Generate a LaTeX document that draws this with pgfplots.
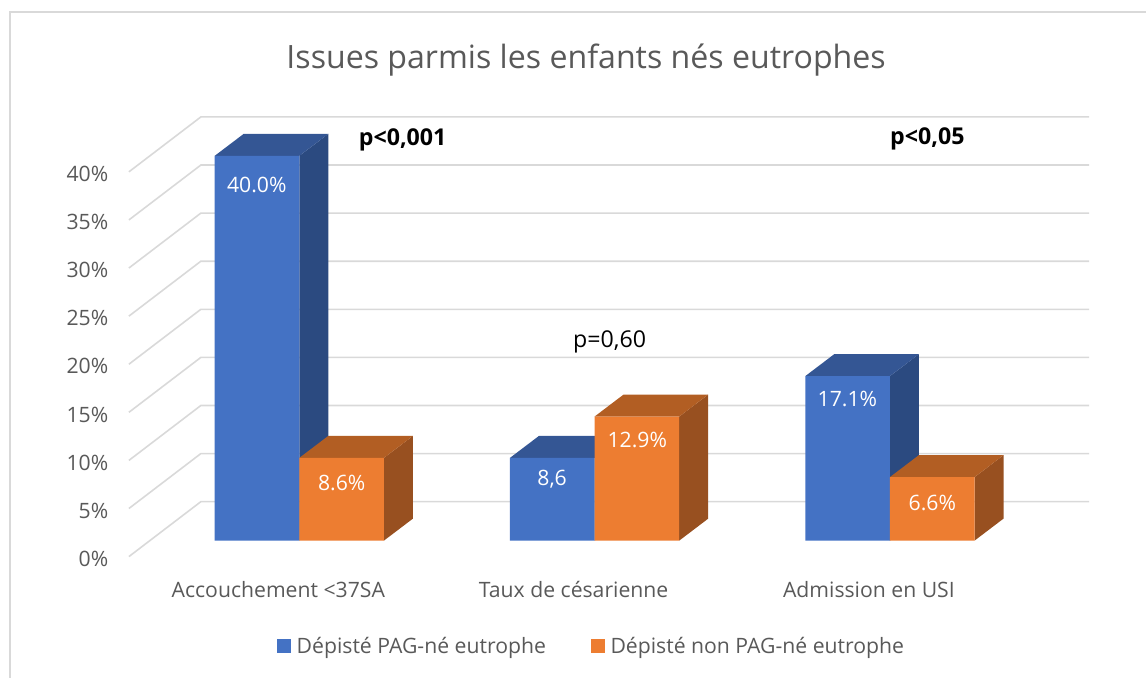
\documentclass[border=0pt]{standalone}
\usepackage{fontspec}
\setmainfont{Open Sans}
\usepackage{pgfplots}
\pgfplotsset{compat=1.18}
\definecolor{blueF}{HTML}{4472C4}
\definecolor{blueS}{HTML}{2B4A80}
\definecolor{blueT}{HTML}{345694}
\definecolor{orF}{HTML}{ED7D31}
\definecolor{orS}{HTML}{985020}
\definecolor{orT}{HTML}{B25E23}
\definecolor{gridc}{HTML}{D9D9D9}
\definecolor{txt}{HTML}{595959}
\def\fs#1{\fontsize{#1}{#1}\selectfont}
\begin{document}
\begin{tikzpicture}
\begin{axis}[
  scale only axis, width=720.75pt, height=318pt,
  xmin=-0.577, xmax=2.675, ymin=0, ymax=44.05,
  clip=false,
  axis line style={draw=none},
  tick style={draw=none},
  xtick={0,1,2},
  xticklabels={Accouchement <37SA,Taux de césarienne,Admission en USI},
  xticklabel style={xshift=-15.75pt, yshift=-26.8pt, font=\fs{15.9}, text=txt},
  ytick={0,5,10,15,20,25,30,35,40},
  yticklabel={\pgfmathprintnumber{\tick}\%},
  /pgf/number format/assume math mode=true,
  yticklabel style={yshift=-13.6pt, xshift=-12pt, font=\fs{15.9}, text=txt},
  title={Issues parmis les enfants nés eutrophes},
  title style={at={(0.4761,1.1155)}, anchor=center, font=\fs{24.1}, text=txt},
  legend image code/.code={\fill[#1] (0pt,-5.25pt) rectangle (10.5pt,5.25pt); \path (12.5pt,0pt);},
  legend style={at={(0.4823,-0.2495)}, anchor=center, draw=none, fill=none,
    font=\fs{15.9}, text=txt, legend columns=2,
    /tikz/every even column/.append style={column sep=32pt}},
  legend cell align=left,
]
% grid lines (walls)
\addplot[gridc, line width=1.2pt, forget plot] coordinates {(-0.577,-1.66) (-0.3333,4.05) (2.675,4.05)};
\addplot[gridc, line width=1.2pt, forget plot] coordinates {(-0.577,3.34) (-0.3333,9.05) (2.675,9.05)};
\addplot[gridc, line width=1.2pt, forget plot] coordinates {(-0.577,8.34) (-0.3333,14.05) (2.675,14.05)};
\addplot[gridc, line width=1.2pt, forget plot] coordinates {(-0.577,13.34) (-0.3333,19.05) (2.675,19.05)};
\addplot[gridc, line width=1.2pt, forget plot] coordinates {(-0.577,18.34) (-0.3333,24.05) (2.675,24.05)};
\addplot[gridc, line width=1.2pt, forget plot] coordinates {(-0.577,23.34) (-0.3333,29.05) (2.675,29.05)};
\addplot[gridc, line width=1.2pt, forget plot] coordinates {(-0.577,28.34) (-0.3333,34.05) (2.675,34.05)};
\addplot[gridc, line width=1.2pt, forget plot] coordinates {(-0.577,33.34) (-0.3333,39.05) (2.675,39.05)};
\addplot[gridc, line width=1.2pt, forget plot] coordinates {(-0.577,38.34) (-0.3333,44.05) (2.675,44.05)};
% blue sides and tops
\addplot[fill=blueS, draw=none, forget plot] coordinates {(0,0) (0.0981,2.286) (0.0981,42.286) (0,40)} -- cycle;
\addplot[fill=blueT, draw=none, forget plot] coordinates {(-0.2866,40) (0,40) (0.0981,42.286) (-0.1885,42.286)} -- cycle;
\addplot[fill=blueS, draw=none, forget plot] coordinates {(1,0) (1.0981,2.286) (1.0981,10.886) (1,8.6)} -- cycle;
\addplot[fill=blueT, draw=none, forget plot] coordinates {(0.7134,8.6) (1,8.6) (1.0981,10.886) (0.8115,10.886)} -- cycle;
\addplot[fill=blueS, draw=none, forget plot] coordinates {(2,0) (2.0981,2.286) (2.0981,19.386) (2,17.1)} -- cycle;
\addplot[fill=blueT, draw=none, forget plot] coordinates {(1.7134,17.1) (2,17.1) (2.0981,19.386) (1.8115,19.386)} -- cycle;
% blue fronts
\addplot[ybar, bar width=63.53pt, bar shift=-31.76pt, fill=blueF, draw=none, forget plot]
  coordinates {(0,40.0) (1,8.6) (2,17.1)};
% orange sides and tops
\addplot[fill=orS, draw=none, forget plot] coordinates {(0.2866,0) (0.3847,2.286) (0.3847,10.886) (0.2866,8.6)} -- cycle;
\addplot[fill=orT, draw=none, forget plot] coordinates {(0,8.6) (0.2866,8.6) (0.3847,10.886) (0.0981,10.886)} -- cycle;
\addplot[fill=orS, draw=none, forget plot] coordinates {(1.2866,0) (1.3847,2.286) (1.3847,15.186) (1.2866,12.9)} -- cycle;
\addplot[fill=orT, draw=none, forget plot] coordinates {(1,12.9) (1.2866,12.9) (1.3847,15.186) (1.0981,15.186)} -- cycle;
\addplot[fill=orS, draw=none, forget plot] coordinates {(2.2866,0) (2.3847,2.286) (2.3847,8.886) (2.2866,6.6)} -- cycle;
\addplot[fill=orT, draw=none, forget plot] coordinates {(2,6.6) (2.2866,6.6) (2.3847,8.886) (2.0981,8.886)} -- cycle;
% orange fronts
\addplot[ybar, bar width=63.53pt, bar shift=31.76pt, fill=orF, draw=none, forget plot]
  coordinates {(0,8.6) (1,12.9) (2,6.6)};
% legend
\addlegendimage{fill=blueF, draw=none}
\addlegendentry{Dépisté PAG-né eutrophe}
\addlegendimage{fill=orF, draw=none}
\addlegendentry{Dépisté non PAG-né eutrophe}
% data labels
\begin{scope}[every node/.style={text=white, font=\fs{15.9}, anchor=center, inner sep=0pt}]
\node at (axis cs:-0.1438,37.0) {40.0\%};
\node at (axis cs:0.1438,6.03) {8.6\%};
\node at (axis cs:0.8562,6.4) {8,6};
\node at (axis cs:1.1445,10.5) {12.9\%};
\node at (axis cs:1.8562,14.76) {17.1\%};
\node at (axis cs:2.1438,3.95) {6.6\%};
\end{scope}
\node[font=\fs{17.4}\bfseries, text=black, inner sep=0pt] at (axis cs:0.350,41.67) {p<0,001};
\node[font=\fs{17.4}\bfseries, text=black, inner sep=0pt] at (axis cs:2.127,41.77) {p<0,05};
\node[font=\fs{17.4}, text=black, inner sep=0pt] at (axis cs:1.0507,20.68) {p=0,60};
% chart frame
\draw[gridc, line width=1.2pt] (axis cs:-0.9797,-14.234) -- (axis cs:-0.9797,54.96) -- (axis cs:2.868,54.96);
\coordinate (bbA) at (axis cs:-1.01354,-14.234);
\coordinate (bbB) at (axis cs:2.86805,56.208);
\end{axis}
\path (bbA) rectangle (bbB);
\end{tikzpicture}
\end{document}
